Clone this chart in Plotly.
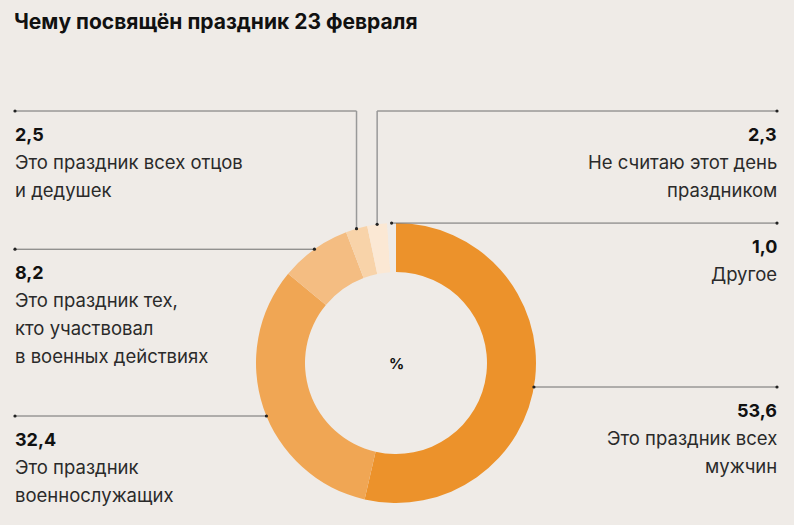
import math
import plotly.graph_objects as go

# data
labels = [
    "Это праздник всех мужчин",
    "Это праздник военнослужащих",
    "Это праздник тех, кто участвовал в военных действиях",
    "Это праздник всех отцов и дедушек",
    "Не считаю этот день праздником",
    "Другое",
]
values = [53.6, 32.4, 8.2, 2.5, 2.3, 1.0]
value_text = ["53,6", "32,4", "8,2", "2,5", "2,3", "1,0"]
label_lines = [
    ["Это праздник всех", "мужчин"],
    ["Это праздник", "военнослужащих"],
    ["Это праздник тех,", "кто участвовал", "в военных действиях"],
    ["Это праздник всех отцов", "и дедушек"],
    ["Не считаю этот день", "праздником"],
    ["Другое"],
]

bg = "#efebe7"
colors = ["#ec922b", "#f0a654", "#f4bd82", "#f8d3a9", "#fbe8d4", bg]

W, H = 794, 525
cx, cy, R = 396, 363, 140


def px(x):
    return x / W


def py(y):
    return 1 - y / H


fig = go.Figure()
fig.add_trace(
    go.Pie(
        values=values,
        labels=labels,
        sort=False,
        direction="clockwise",
        rotation=0,
        hole=0.65,
        marker=dict(colors=colors, line=dict(width=0)),
        textinfo="none",
        hoverinfo="label+value",
        showlegend=False,
        domain=dict(x=[px(cx - R), px(cx + R)], y=[py(cy + R), py(cy - R)]),
    )
)

# label placement: side, y of the leader line (px), kind of leader
# kind "h": horizontal line to slice; "v": horizontal line at top then vertical down to slice
label_pos = [
    ("right", 387, "h"),
    ("left", 416, "h"),
    ("left", 249, "h"),
    ("left", 111, "v"),
    ("right", 111, "v"),
    ("right", 224, "h"),
]

line_col = "#6e6e6e"
dot_col = "#222222"
shapes = []
annotations = []
total = sum(values)
cum = 0
for i, v in enumerate(values):
    mid = (cum + v / 2) / total * 2 * math.pi
    cum += v
    side, ly, kind = label_pos[i]
    if kind == "v":
        dx = cx + R * math.sin(mid)
        dy = cy - R * math.cos(mid)
        hx0 = 15 if side == "left" else dx
        hx1 = dx if side == "left" else 777
        shapes.append(dict(type="line", xref="paper", yref="paper",
                           x0=px(hx0), x1=px(hx1), y0=py(ly), y1=py(ly),
                           line=dict(color=line_col, width=1)))
        shapes.append(dict(type="line", xref="paper", yref="paper",
                           x0=px(dx), x1=px(dx), y0=py(ly), y1=py(dy),
                           line=dict(color="#999999", width=1.5)))
    else:
        off = math.sqrt(max(R * R - (ly - cy) ** 2, 0))
        if abs(ly - cy) > R * 0.8:
            dx = cx + R * math.sin(mid)
            dy = cy - R * math.cos(mid)
            ly = dy
        else:
            dx = cx + off if side == "right" else cx - off
            dy = ly
        hx0 = 15 if side == "left" else dx
        hx1 = dx if side == "left" else 777
        shapes.append(dict(type="line", xref="paper", yref="paper",
                           x0=px(hx0), x1=px(hx1), y0=py(ly), y1=py(ly),
                           line=dict(color=line_col, width=1)))
    # dots at both ends
    for (ex, ey) in [(dx, dy), (15 if side == "left" else 777, ly)]:
        shapes.append(dict(type="circle", xref="paper", yref="paper",
                           x0=px(ex - 1.6), x1=px(ex + 1.6),
                           y0=py(ey + 1.6), y1=py(ey - 1.6),
                           fillcolor=dot_col, line=dict(width=0)))

    tx = 13 if side == "left" else 779
    anchor = "left" if side == "left" else "right"
    annotations.append(dict(
        text="<b>" + value_text[i] + "</b>", x=px(tx), y=py(ly + 23),
        xref="paper", yref="paper", xanchor=anchor, yanchor="middle",
        showarrow=False, font=dict(size=18, color="#111111")))
    for j, t in enumerate(label_lines[i]):
        annotations.append(dict(
            text=t, x=px(tx), y=py(ly + 51 + 28 * j),
            xref="paper", yref="paper", xanchor=anchor, yanchor="middle",
            showarrow=False, font=dict(size=18.5, color="#2a2a2a")))

annotations.append(dict(
    text="<b>%</b>", x=px(cx), y=py(cy), xref="paper", yref="paper",
    xanchor="center", yanchor="middle", showarrow=False,
    font=dict(size=15, color="#111111")))

fig.update_layout(
    width=W,
    height=H,
    margin=dict(l=0, r=0, t=0, b=0),
    paper_bgcolor=bg,
    plot_bgcolor=bg,
    font=dict(family="Inter", color="#222222"),
    title=dict(text="<b>Чему посвящён праздник 23 февраля</b>",
               x=px(14), xanchor="left", y=py(22), yanchor="middle",
               font=dict(size=21, color="#111111")),
    shapes=shapes,
    annotations=annotations,
)

fig.write_html("out.html", config={"displayModeBar": False},
               post_script="document.body.style.margin='0';")
